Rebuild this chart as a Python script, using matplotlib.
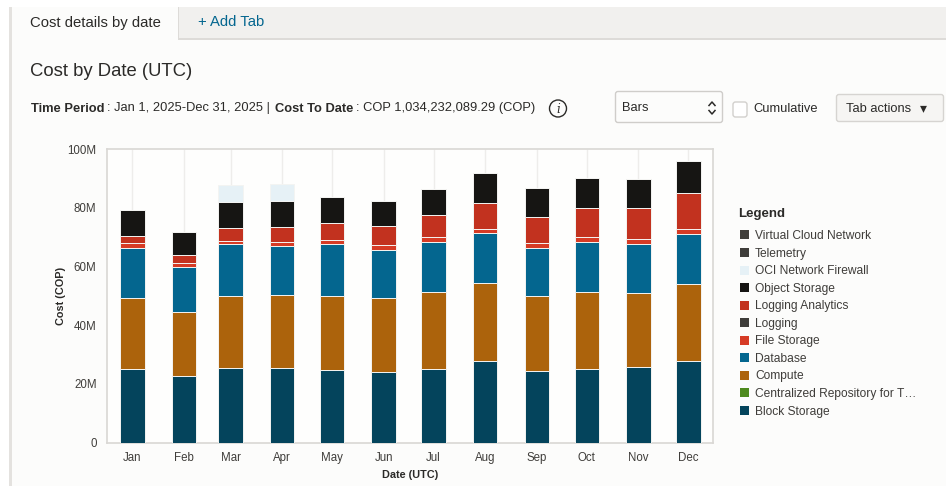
import matplotlib
matplotlib.use("Agg")
import matplotlib.pyplot as plt
from matplotlib.lines import Line2D
from matplotlib.patches import Rectangle, FancyBboxPatch, Circle
from matplotlib.ticker import FuncFormatter

W, H = 946, 486

months = ["Jan", "Feb", "Mar", "Apr", "May", "Jun", "Jul", "Aug", "Sep", "Oct", "Nov", "Dec"]
# day of the year each month starts, the chart has a real time axis
month_days = [0, 31, 59, 90, 120, 151, 181, 212, 243, 273, 304, 334]

# monthly cost per service, millions of COP
block_storage = [25.2, 22.8, 25.4, 25.5, 24.7, 24.1, 24.9, 27.9, 24.4, 24.9, 25.6, 27.9]
compute = [24.0, 21.7, 24.6, 24.8, 25.3, 25.0, 26.3, 26.3, 25.4, 26.3, 25.4, 26.1]
database = [17.2, 15.4, 17.5, 16.7, 17.5, 16.6, 17.2, 17.3, 16.6, 17.2, 16.6, 17.2]
file_storage = [1.5, 1.3, 1.2, 1.3, 1.4, 1.5, 1.5, 1.3, 1.5, 1.5, 1.8, 1.6]
logging_analytics = [2.6, 2.6, 4.5, 5.2, 6.0, 6.7, 7.6, 8.7, 8.8, 10.0, 10.5, 12.2]
object_storage = [8.8, 7.9, 8.8, 8.7, 8.9, 8.5, 9.0, 10.4, 9.9, 10.2, 9.9, 10.9]
firewall = [0, 0, 5.6, 5.8, 0, 0, 0, 0, 0, 0, 0, 0]

legend_names = ["Virtual Cloud Network", "Telemetry", "OCI Network Firewall", "Object Storage",
                "Logging Analytics", "Logging", "File Storage", "Database", "Compute",
                "Centralized Repository for T\u2026", "Block Storage"]
legend_colors = ["#3f3d3a", "#3f3d3a", "#e6f1f6", "#161513", "#c2321f", "#3f3d3a", "#d63b25",
                 "#04668f", "#ac630c", "#4e8a1e", "#04445c"]

plt.rcParams['font.family'] = ['Liberation Sans', 'DejaVu Sans']
BG = "#fcfcfb"
TEXT = "#2b2a28"

fig = plt.figure(figsize=(W / 100, H / 100), dpi=100, facecolor=BG)


def px_rect(x, y, w, h, **kw):
    # rectangle in image pixels, y measured from the top
    fig.add_artist(Rectangle((x / W, 1 - (y + h) / H), w / W, h / H, transform=fig.transFigure, **kw))


def px_text(x, y, s, **kw):
    # va center sits a bit high for this font, hence the small shift
    fig.text(x / W, 1 - (y + 1.5) / H, s, va="center", **kw)


def px_box(x, y, w, h, **kw):
    fig.add_artist(FancyBboxPatch((x, H - y - h), w, h, boxstyle="round,pad=0,rounding_size=2.5",
                                  transform=None, **kw))


def px_line(xs, ys, **kw):
    fig.add_artist(Line2D([x / W for x in xs], [1 - y / H for y in ys], transform=fig.transFigure, **kw))


# page chrome
px_rect(0, 0, W, 7, fc="white", ec="none")
px_rect(0, 7, 10, H - 7, fc="white", ec="none")
px_rect(9, 7, 3, H - 7, fc="#e4e2df", ec="none")
px_rect(178, 7, W - 178, 32, fc="#f1f0ee", ec="none")
px_rect(178, 38, W - 178, 2, fc="#dddbd8", ec="none")
px_rect(178, 7, 1, 32, fc="#dddbd8", ec="none")

px_text(30.5, 21, "Cost details by date", fontsize=10.7, color=TEXT)
px_text(198.5, 20.5, "+ Add Tab", fontsize=10.7, color="#04668f")
px_text(30.5, 69.5, "Cost by Date (UTC)", fontsize=13.3, color=TEXT)

# summary line, pieces placed one after the other
px_text(31, 107, "Time Period", fontsize=9.3, color=TEXT, fontweight="bold")
px_text(107, 107, ": Jan 1, 2025-Dec 31, 2025 |", fontsize=9.3, color=TEXT)
px_text(274.5, 107, "Cost To Date", fontsize=9.3, color=TEXT, fontweight="bold")
px_text(356, 107, ": COP 1,034,232,089.29 (COP)", fontsize=9.3, color=TEXT)

fig.add_artist(Circle((558, H - 108.5), 8.5, transform=None, fc="none", ec=TEXT, lw=1))
px_text(558, 107.5, "i", fontsize=8.5, color=TEXT, ha="center", style="italic", family="DejaVu Serif")

# controls
px_box(615.5, 91.5, 107, 31, fc=BG, ec="#cfcdca", lw=1)
px_text(622, 106.5, "Bars", fontsize=9.3, color=TEXT)
px_line([709, 712, 715], [105.5, 102, 105.5], color=TEXT, lw=1.1)
px_line([709, 712, 715], [110.5, 114, 110.5], color=TEXT, lw=1.1)
px_box(733, 102, 14, 15, fc="white", ec="#d2d0cd", lw=1)
px_text(753, 107, "Cumulative", fontsize=9.3, color=TEXT)
px_box(836.5, 94.5, 107, 27, fc="#f6f5f3", ec="#d6d4d1", lw=1)
px_text(846, 107, "Tab actions", fontsize=9.3, color=TEXT)
px_text(919.5, 106.5, "\u25be", fontsize=10, color=TEXT, ha="left", family="DejaVu Sans")

# the stacked bars
ax = fig.add_axes([107 / W, 1 - 442.5 / H, (713 - 107) / W, (442.5 - 149) / H])
ax.set_facecolor("#fefefd")
series = [(block_storage, "#04445c"), (compute, "#ac630c"), (database, "#04668f"),
          (file_storage, "#d63b25"), (logging_analytics, "#c2321f"),
          (object_storage, "#161513"), (firewall, "#e6f1f6")]
ax.vlines(month_days, 0, 100, color="#eeedeb", lw=1, zorder=1)
bottom = [0.0] * 12
for values, color in series:
    ax.bar(month_days, values, width=14.7, bottom=bottom, color=color, edgecolor="#f4f4f2",
           linewidth=0.7, zorder=3)
    bottom = [b + v for b, v in zip(bottom, values)]

ax.set_xlim(-15.2, 348.8)
ax.set_ylim(0, 100)
ax.set_xticks(month_days)
ax.set_xticklabels(months)
ax.set_yticks([0, 20, 40, 60, 80, 100])
ax.yaxis.set_major_formatter(FuncFormatter(lambda v, pos: "0" if v == 0 else "%dM" % v))
ax.tick_params(length=0, labelsize=8.3, labelcolor="#3f3d3a")
ax.tick_params(axis="x", pad=7)
ax.tick_params(axis="y", pad=7.5)
for side in ax.spines.values():
    side.set_color("#d9d7d4")
    side.set_linewidth(1.2)
ax.set_xlabel("Date (UTC)", fontsize=7.8, fontweight="bold", color=TEXT, labelpad=4.5)
ax.set_ylabel("Cost (COP)", fontsize=7.8, fontweight="bold", color=TEXT, labelpad=1)

# legend, drawn by hand to keep the tight row spacing of the page
px_text(738.5, 212, "Legend", fontsize=9.5, color=TEXT, fontweight="bold")
for i, (name, color) in enumerate(zip(legend_names, legend_colors)):
    y = 235 + i * 17.55
    px_rect(739.5, y - 4.5, 9, 9, fc=color, ec="none")
    px_text(755, y - 0.5, name, fontsize=8.65, color="#3f3d3a")

fig.savefig("out.png", dpi=100, facecolor=BG)
